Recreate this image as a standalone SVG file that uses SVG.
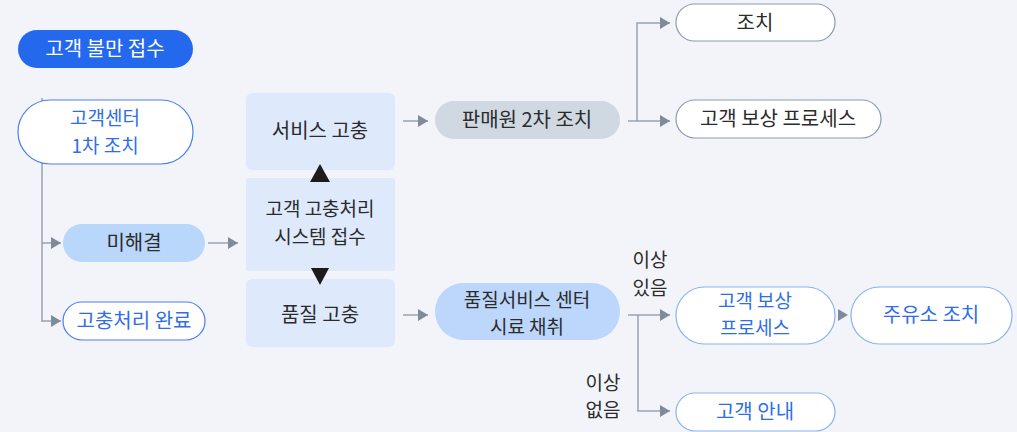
<svg xmlns="http://www.w3.org/2000/svg" width="1017" height="432" viewBox="0 0 1017 432">
<defs>
<marker id="ah" markerWidth="10" markerHeight="12" refX="10" refY="6" orient="auto" markerUnits="userSpaceOnUse"><path d="M0,0 L10,6 L0,12 Z" fill="#7f8b9a"/></marker>
</defs>
<style>
text{font-family:"Noto Sans CJK KR","Noto Sans",sans-serif;font-size:20px;text-anchor:middle}
text.two{font-size:19px}
.dk{fill:#2b2b2b}
.bl{fill:#2f6ee8}
.wh{fill:#ffffff}
.ln{fill:none;stroke:#98a3b1;stroke-width:1.5}
.box{fill:#deeafc}
.pw{fill:#ffffff;stroke:#4a80ee;stroke-width:1.2}
.pl{fill:#ffffff;stroke:#8ab2f2;stroke-width:1.2}
.pg{fill:#ffffff;stroke:#8c9bb0;stroke-width:1.2}
</style>
<rect width="1017" height="432" fill="#f2f4f9"/>
<g id="connectors">
<path class="ln" d="M42,98 V322"/>
<path class="ln" d="M42,243 H61" marker-end="url(#ah)"/>
<path class="ln" d="M42,321 H61" marker-end="url(#ah)"/>
<path class="ln" d="M208,243 H238" marker-end="url(#ah)"/>
<path class="ln" d="M403,121 H428" marker-end="url(#ah)"/>
<path class="ln" d="M403,315 H428" marker-end="url(#ah)"/>
<path class="ln" d="M628,121 H670" marker-end="url(#ah)"/>
<path class="ln" d="M637,121 V23 H670" marker-end="url(#ah)"/>
<path class="ln" d="M628,315 H670" marker-end="url(#ah)"/>
<path class="ln" d="M638,315 V411 H670" marker-end="url(#ah)"/>
<path d="M838,309 L848,315 L838,321 Z" fill="#7f8b9a"/>
</g>
<g id="n-start"><rect x="18" y="30" width="175" height="38" rx="19" fill="#2468ee"/><text class="wh" x="105" y="56">고객 불만 접수</text></g>
<g id="n-center"><rect class="pw" x="18" y="100" width="175" height="64" rx="32"/><text class="bl two"><tspan x="105" y="125">고객센터</tspan><tspan x="105" y="152.5">1차 조치</tspan></text></g>
<g id="n-unresolved"><rect x="63" y="224" width="142" height="38" rx="19" fill="#b9d6fb"/><text class="dk" x="134" y="250">미해결</text></g>
<g id="n-done"><rect class="pw" x="63" y="302" width="142" height="38" rx="19"/><text class="bl" x="134" y="328">고충처리 완료</text></g>
<g id="n-service"><rect class="box" x="246" y="93" width="149" height="77" rx="6"/><text class="dk" x="320" y="138">서비스 고충</text></g>
<g id="n-system"><rect class="box" x="246" y="178" width="149" height="93" rx="2"/><text class="dk two"><tspan x="320" y="216">고객 고충처리</tspan><tspan x="320" y="243.5">시스템 접수</tspan></text></g>
<g id="n-quality"><rect class="box" x="246" y="279" width="149" height="68" rx="6"/><text class="dk" x="320" y="322">품질 고충</text></g>
<g id="n-seller"><rect x="435" y="101" width="185" height="38" rx="19" fill="#d0d8e2"/><text class="dk" x="527" y="127">판매원 2차 조치</text></g>
<g id="n-qcenter"><rect x="435" y="283" width="185" height="57" rx="28.5" fill="#bcd7fb"/><text class="dk two"><tspan x="527" y="306.8">품질서비스 센터</tspan><tspan x="527" y="334.3">시료 채취</tspan></text></g>
<g id="n-act"><rect class="pg" x="676" y="4" width="159" height="37" rx="18.5"/><text class="dk" x="755" y="29.5">조치</text></g>
<g id="n-comp1"><rect class="pg" x="676" y="100" width="205" height="38" rx="19"/><text class="dk" x="778" y="126">고객 보상 프로세스</text></g>
<g id="n-comp2"><rect class="pl" x="676" y="287" width="159" height="57" rx="28.5"/><text class="bl two"><tspan x="755" y="307.8">고객 보상</tspan><tspan x="755" y="335.3">프로세스</tspan></text></g>
<g id="n-station"><rect class="pl" x="851" y="287" width="161" height="57" rx="28.5"/><text class="bl" x="931" y="322">주유소 조치</text></g>
<g id="n-guide"><rect class="pl" x="676" y="393" width="159" height="38" rx="19"/><text class="bl" x="755" y="419">고객 안내</text></g>
<g id="flow-marks">
<path d="M320,164 L330,182 L310,182 Z" fill="#1c1c1c"/>
<path d="M311,268 L329,268 L320,285 Z" fill="#1c1c1c"/>
</g>
<g id="labels">
<text class="dk two"><tspan x="650" y="267.3">이상</tspan><tspan x="650" y="294.8">있음</tspan></text>
<text class="dk two"><tspan x="603" y="389.8">이상</tspan><tspan x="603" y="417.3">없음</tspan></text>
</g>
</svg>
